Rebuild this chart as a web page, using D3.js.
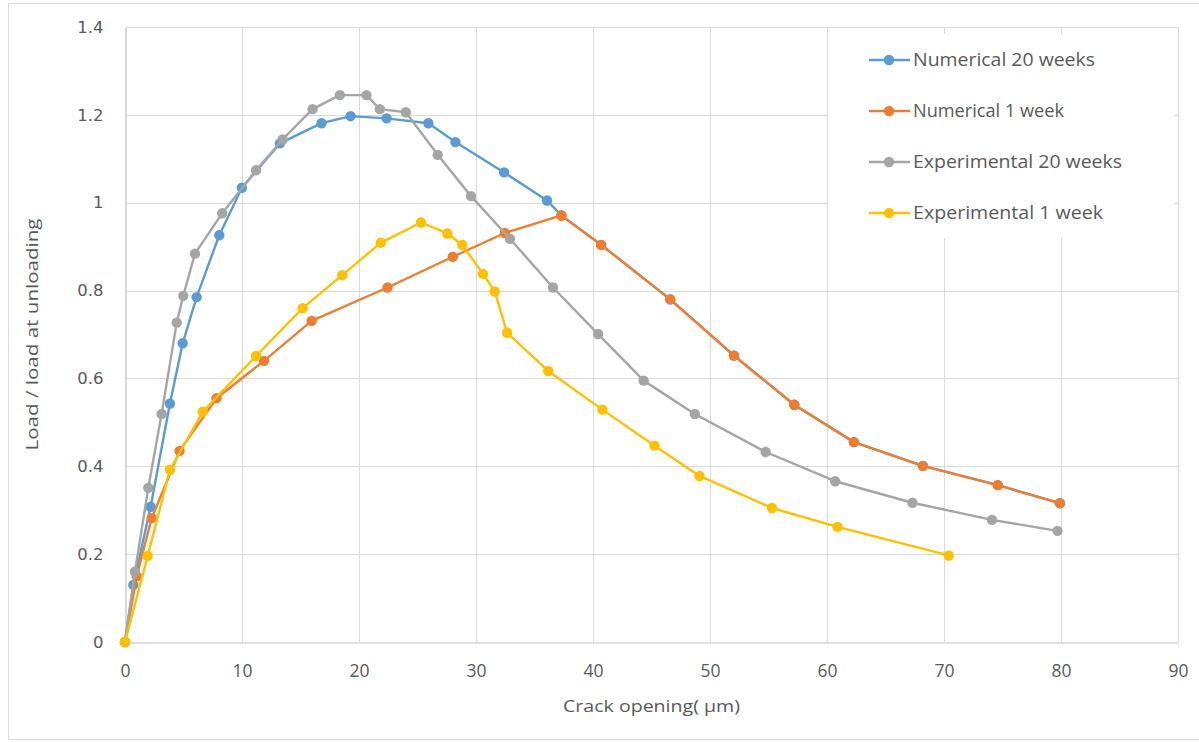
<!DOCTYPE html>
<html>
<head>
<meta charset="utf-8">
<script src="https://cdn.jsdelivr.net/npm/d3@7"></script>
<style>
  html, body { margin: 0; padding: 0; background: #ffffff; }
  svg { display: block; }
</style>
</head>
<body>
<svg id="chart" width="1199" height="742"></svg>
<script>
// ---- Data ----
const seriesNames = ["Numerical 20 weeks", "Numerical 1 week", "Experimental 20 weeks", "Experimental 1 week"];
const seriesColors = ["#5b9bd5", "#ed7d31", "#a5a5a5", "#ffc000"];

const num20X = [0, 0.71, 2.19, 3.84, 4.93, 6.12, 8.06, 9.99, 13.24, 16.8, 19.28, 22.36, 25.93, 28.24, 32.4, 36.07, 37.3, 40.7, 46.6, 52.05, 57.2, 62.3, 68.2, 74.6, 79.9];
const num20Y = [0, 0.13, 0.308, 0.543, 0.680, 0.785, 0.926, 1.034, 1.135, 1.181, 1.197, 1.192, 1.181, 1.138, 1.069, 1.005, 0.971, 0.904, 0.780, 0.652, 0.540, 0.455, 0.401, 0.357, 0.316];

const num1X = [0, 1.0, 2.28, 4.66, 7.82, 11.88, 15.95, 22.44, 28.02, 32.46, 37.3, 40.7, 46.6, 52.05, 57.2, 62.3, 68.2, 74.6, 79.9];
const num1Y = [0, 0.15, 0.282, 0.435, 0.555, 0.640, 0.731, 0.807, 0.877, 0.931, 0.971, 0.904, 0.780, 0.652, 0.540, 0.455, 0.401, 0.357, 0.316];

const exp20X = [0, 0.85, 1.99, 3.13, 4.42, 4.98, 5.98, 8.31, 11.2, 13.47, 16.03, 18.36, 20.64, 21.78, 24.0, 26.73, 29.57, 32.9, 36.58, 40.44, 44.33, 48.7, 54.76, 60.7, 67.3, 74.1, 79.7];
const exp20Y = [0, 0.16, 0.351, 0.519, 0.727, 0.788, 0.884, 0.976, 1.074, 1.144, 1.213, 1.245, 1.245, 1.213, 1.206, 1.109, 1.015, 0.918, 0.807, 0.701, 0.595, 0.519, 0.4325, 0.366, 0.317, 0.278, 0.253];

const exp1X = [0, 1.94, 3.84, 6.64, 11.2, 15.18, 18.57, 21.87, 25.3, 27.55, 28.83, 30.6, 31.6, 32.66, 36.17, 40.8, 45.26, 49.1, 55.3, 60.9, 70.4];
const exp1Y = [0, 0.196, 0.392, 0.524, 0.651, 0.760, 0.835, 0.909, 0.955, 0.930, 0.904, 0.838, 0.798, 0.704, 0.617, 0.529, 0.447, 0.378, 0.305, 0.262, 0.197];

const xTicks = [0, 10, 20, 30, 40, 50, 60, 70, 80, 90];
const yTicks = [0, 0.2, 0.4, 0.6, 0.8, 1, 1.2, 1.4];
const xTitle = "Crack opening( \u03bcm)";
const yTitle = "Load / load at unloading";

// ---- Build ----
const seriesX = [num20X, num1X, exp20X, exp1X];
const seriesY = [num20Y, num1Y, exp20Y, exp1Y];
const series = seriesNames.map((name, i) => ({
  name, color: seriesColors[i],
  points: seriesX[i].map((x, j) => ({ x, y: seriesY[i][j] }))
}));

const svg = d3.select("#chart");
const plot = { left: 125, top: 27, right: 1178, bottom: 642 };

// outer chart border
svg.append("rect")
  .attr("x", 8.5).attr("y", 3.5).attr("width", 1200).attr("height", 736)
  .attr("fill", "#fff").attr("stroke", "#d9d9d9").attr("stroke-width", 1);

const x = d3.scaleLinear().domain([0, 90]).range([plot.left, plot.right]);
const y = d3.scaleLinear().domain([0, 1.4]).range([plot.bottom, plot.top]);

// gridlines
const grid = svg.append("g");
grid.selectAll("line.v").data(xTicks.slice(1)).join("line")
  .attr("x1", d => Math.round(x(d)) + 0.5).attr("x2", d => Math.round(x(d)) + 0.5)
  .attr("y1", plot.top).attr("y2", plot.bottom)
  .attr("stroke", "#d9d9d9").attr("stroke-width", 1);
grid.selectAll("line.h").data(yTicks.slice(1)).join("line")
  .attr("y1", d => Math.round(y(d)) + 0.5).attr("y2", d => Math.round(y(d)) + 0.5)
  .attr("x1", plot.left).attr("x2", plot.right)
  .attr("stroke", "#d9d9d9").attr("stroke-width", 1);

// axes
const xAxis = d3.axisBottom(x).tickValues(xTicks).tickSize(0).tickPadding(22).tickFormat(d3.format("d"));
const gx = svg.append("g").attr("transform", `translate(0,${plot.bottom + 0.5})`).call(xAxis);
gx.select(".domain").attr("stroke", "#bfbfbf").attr("stroke-width", 1.2);
gx.selectAll("text").attr("fill", "#595959").attr("font-family", "'Open Sans', sans-serif").attr("font-size", 17.5);

const yAxis = d3.axisLeft(y).tickValues(yTicks).tickSize(0).tickPadding(22).tickFormat(d => d3.format("~g")(d));
const gy = svg.append("g").attr("transform", `translate(${plot.left + 0.5},0)`).call(yAxis);
gy.select(".domain").attr("stroke", "#bfbfbf").attr("stroke-width", 1.2);
gy.selectAll("text").attr("fill", "#595959").attr("font-family", "'DejaVu Sans', sans-serif").attr("font-size", 16.5);

// axis titles
svg.append("text")
  .attr("x", (plot.left + plot.right) / 2).attr("y", 712)
  .attr("text-anchor", "middle").attr("fill", "#595959")
  .attr("font-family", "'Open Sans', sans-serif").attr("font-size", 17)
  .attr("textLength", 177).attr("lengthAdjust", "spacingAndGlyphs")
  .text(xTitle);
svg.append("text")
  .attr("transform", `translate(38,${(plot.top + plot.bottom) / 2}) rotate(-90)`)
  .attr("text-anchor", "middle").attr("fill", "#595959")
  .attr("font-family", "'Open Sans', sans-serif").attr("font-size", 17)
  .attr("textLength", 232).attr("lengthAdjust", "spacingAndGlyphs")
  .text(yTitle);

// series
const line = d3.line().x(d => x(d.x)).y(d => y(d.y));
const gs = svg.append("g");
series.forEach(s => {
  const g = gs.append("g");
  g.append("path").datum(s.points)
    .attr("d", line).attr("fill", "none")
    .attr("stroke", s.color).attr("stroke-width", 2.4)
    .attr("stroke-linejoin", "round").attr("stroke-linecap", "round");
  g.selectAll("circle").data(s.points).join("circle")
    .attr("cx", d => x(d.x)).attr("cy", d => y(d.y)).attr("r", 5.2)
    .attr("fill", s.color);
});

// legend
const lg = svg.append("g");
lg.append("rect").attr("x", 828).attr("y", 34).attr("width", 346).attr("height", 204).attr("fill", "#fff");
const legLens = [182, 151, 209, 190];
series.forEach((s, i) => {
  const cy = 60 + i * 51;
  lg.append("line").attr("x1", 869).attr("x2", 910).attr("y1", cy).attr("y2", cy)
    .attr("stroke", s.color).attr("stroke-width", 2.4);
  lg.append("circle").attr("cx", 889).attr("cy", cy).attr("r", 5.2).attr("fill", s.color);
  lg.append("text").attr("x", 913).attr("y", cy).attr("dy", "0.35em")
    .attr("fill", "#595959").attr("font-family", "'Open Sans', sans-serif").attr("font-size", 18)
    .attr("textLength", legLens[i]).attr("lengthAdjust", "spacingAndGlyphs")
    .text(s.name);
});
</script>
</body>
</html>
